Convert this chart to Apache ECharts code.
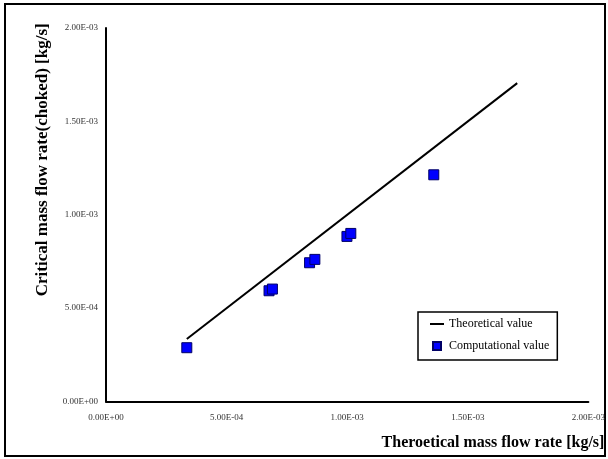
<!DOCTYPE html>
<html>
<head>
<meta charset="utf-8">
<script src="https://cdn.jsdelivr.net/npm/echarts@6/dist/echarts.min.js"></script>
<style>
html,body{margin:0;padding:0;background:#fff;}
#chart{width:608px;height:459px;}
</style>
</head>
<body>
<div id="chart"></div>
<script>
// Data (kg/s)
var theoreticalX = [0.335e-3, 1.705e-3];
var theoreticalY = [0.335e-3, 1.705e-3];
var computationalX = [0.335e-3, 0.676e-3, 0.690e-3, 0.844e-3, 0.866e-3, 0.999e-3, 1.015e-3, 1.359e-3];
var computationalY = [0.288e-3, 0.593e-3, 0.602e-3, 0.743e-3, 0.761e-3, 0.884e-3, 0.900e-3, 1.214e-3];
var axisTicks = [0, 0.5e-3, 1.0e-3, 1.5e-3, 2.0e-3];
var seriesNames = ['Theoretical value', 'Computational value'];
var xTitle = 'Theroetical mass flow rate [kg/s]';
var yTitle = 'Critical mass flow rate(choked) [kg/s]';

function sci(v) {
  if (Math.abs(v) < 1e-12) return '0.00E+00';
  var s = v.toExponential(2).toUpperCase();
  var parts = s.split('E');
  var exp = parseInt(parts[1], 10);
  var sign = exp < 0 ? '-' : '+';
  var a = Math.abs(exp);
  return parts[0] + 'E' + sign + (a < 10 ? '0' + a : '' + a);
}

function pairs(xs, ys) {
  var out = [];
  for (var i = 0; i < xs.length; i++) out.push([xs[i], ys[i]]);
  return out;
}

var serif = '"Liberation Serif", "DejaVu Serif", serif';
var chart = echarts.init(document.getElementById('chart'), null, {renderer: 'canvas'});
chart.setOption({
  animation: false,
  backgroundColor: '#fff',
  graphic: [{
    type: 'rect',
    shape: {x: 5, y: 4, width: 600, height: 452},
    style: {fill: 'none', stroke: '#000', lineWidth: 2},
    silent: true,
    z: -1
  }],
  grid: {left: 106, right: 18, top: 28, bottom: 57.5, containLabel: false},
  legend: {
    orient: 'vertical',
    left: 418,
    top: 312,
    padding: [5, 8, 7, 12],
    itemGap: 8,
    itemWidth: 14,
    itemHeight: 8,
    backgroundColor: '#fff',
    borderColor: '#000',
    borderWidth: 1.5,
    borderRadius: 0,
    textStyle: {fontFamily: serif, fontSize: 12, color: '#000', lineHeight: 14},
    data: [
      {name: seriesNames[0], icon: 'path://M0,0H14V2H0Z'},
      {name: seriesNames[1], icon: 'path://M0,0H1V1H0Z'}
    ]
  },
  xAxis: {
    type: 'value',
    min: axisTicks[0],
    max: axisTicks[axisTicks.length - 1],
    interval: axisTicks[1] - axisTicks[0],
    name: xTitle,
    nameLocation: 'end',
    nameGap: 16,
    nameTextStyle: {
      fontFamily: serif, fontSize: 16, fontWeight: 'bold', color: '#000',
      align: 'right', verticalAlign: 'top', padding: [33, 0, 0, 0]
    },
    axisLine: {show: true, onZero: false, lineStyle: {color: '#000', width: 2}},
    axisTick: {show: false},
    splitLine: {show: false},
    axisLabel: {
      formatter: sci, margin: 12, fontFamily: serif, fontSize: 9, color: '#333',
      showMinLabel: true, showMaxLabel: true
    }
  },
  yAxis: {
    type: 'value',
    min: axisTicks[0],
    max: axisTicks[axisTicks.length - 1],
    interval: axisTicks[1] - axisTicks[0],
    name: yTitle,
    nameLocation: 'middle',
    nameGap: 55,
    nameRotate: 90,
    nameTextStyle: {
      fontFamily: serif, fontSize: 17, fontWeight: 'bold', color: '#000',
      padding: [0, 0, 0, 110]
    },
    axisLine: {show: true, onZero: false, lineStyle: {color: '#000', width: 2}},
    axisTick: {show: false},
    splitLine: {show: false},
    axisLabel: {formatter: sci, margin: 8, fontFamily: serif, fontSize: 9, color: '#333'}
  },
  series: [
    {
      name: seriesNames[0],
      type: 'line',
      data: pairs(theoreticalX, theoreticalY),
      symbol: 'none',
      color: '#000',
      lineStyle: {color: '#000', width: 2},
      z: 2
    },
    {
      name: seriesNames[1],
      type: 'scatter',
      data: pairs(computationalX, computationalY),
      symbol: 'rect',
      symbolSize: 10,
      itemStyle: {color: '#0000ff', borderColor: '#000066', borderWidth: 1, opacity: 1},
      z: 3
    }
  ]
});
</script>
</body>
</html>
